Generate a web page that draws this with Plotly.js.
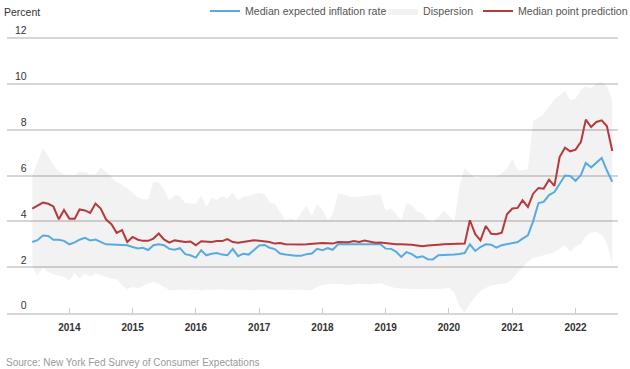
<!DOCTYPE html>
<html>
<head>
<meta charset="utf-8">
<script src="https://cdn.plot.ly/plotly-3.0.1.min.js"></script>
<style>
html,body{margin:0;padding:0;background:#fff;}
#chart{width:630px;height:369px;}
</style>
</head>
<body>
<div id="chart"></div>
<script>
// Monthly observations, June 2013 through August 2022
const startYear = 2013, startMonth = 6, monthCount = 111;

const medianExpected = [
3.10,3.18,3.38,3.36,3.20,3.20,3.15,3.00,3.08,3.20,3.28,3.17,3.21,3.10,3.00,2.99,2.99,2.99,2.96,2.88,
2.82,2.85,2.75,2.96,3.00,2.96,2.80,2.76,2.83,2.57,2.52,2.42,2.74,2.52,2.59,2.62,2.55,2.52,2.80,2.48,
2.59,2.55,2.75,2.95,2.97,2.85,2.79,2.60,2.55,2.52,2.50,2.50,2.57,2.60,2.80,2.74,2.83,2.76,3.00,3.00,
3.00,3.01,3.00,3.02,3.00,3.00,3.00,2.81,2.80,2.68,2.45,2.66,2.57,2.42,2.48,2.35,2.34,2.52,2.52,2.54,
2.55,2.58,2.62,3.00,2.71,2.88,3.00,2.98,2.85,2.96,3.00,3.05,3.10,3.25,3.39,4.00,4.80,4.85,5.15,5.28,
5.65,6.00,5.98,5.77,6.03,6.55,6.36,6.56,6.77,6.22,5.73];

const medianPoint = [
4.56,4.70,4.82,4.77,4.65,4.09,4.50,4.12,4.12,4.52,4.48,4.37,4.78,4.56,4.08,3.88,3.50,3.62,3.10,3.32,
3.20,3.15,3.15,3.25,3.47,3.21,3.07,3.17,3.12,3.10,3.12,2.96,3.13,3.12,3.10,3.14,3.14,3.23,3.10,3.07,
3.10,3.14,3.18,3.15,3.14,3.10,3.03,3.06,3.00,2.99,2.97,2.99,3.00,3.03,3.06,3.06,3.05,3.03,3.10,3.10,
3.09,3.14,3.10,3.16,3.10,3.07,3.08,3.05,3.03,3.00,3.00,3.00,2.98,2.95,2.91,2.95,2.98,2.98,3.00,3.00,
3.00,3.00,3.03,4.05,3.44,3.17,3.80,3.46,3.44,3.51,4.31,4.56,4.59,4.92,4.63,5.21,5.46,5.43,5.82,5.55,
6.81,7.22,7.06,7.13,7.47,8.44,8.12,8.34,8.41,8.15,7.07];

const dispersionUpper = [
6.00,6.60,7.20,6.85,6.45,6.20,6.05,6.06,6.00,6.18,6.15,6.06,6.06,6.37,6.16,5.94,5.72,5.60,5.45,5.25,
5.05,4.97,4.97,5.72,5.72,5.40,4.90,5.17,5.10,4.80,4.77,4.77,5.14,4.63,5.03,4.92,5.10,5.00,5.26,4.92,
5.10,5.10,5.20,5.25,5.20,4.85,4.77,4.41,4.05,4.15,4.05,4.38,4.70,4.24,4.77,4.50,4.05,4.30,5.21,5.20,
5.10,5.05,5.07,5.10,5.12,5.15,5.20,4.48,4.56,4.30,4.05,4.80,4.70,4.45,4.34,4.05,3.97,4.20,4.48,4.26,
4.00,5.50,6.35,6.10,5.90,5.95,5.95,5.95,5.95,6.10,6.30,6.74,6.23,6.23,6.30,8.40,8.52,8.70,9.00,9.35,
9.50,9.70,9.30,9.36,9.75,9.90,9.80,10.02,10.09,9.90,9.29];

const dispersionLower = [
2.05,1.64,1.97,1.79,1.68,1.64,1.57,1.42,1.72,1.52,1.73,1.58,1.72,1.64,1.57,1.50,1.48,1.20,1.04,1.14,
1.08,1.17,1.30,1.35,1.27,1.14,1.00,0.99,1.02,1.00,1.03,1.00,0.98,1.02,1.00,1.04,1.01,1.00,1.03,1.00,
1.02,1.00,0.99,1.02,1.03,1.00,1.02,1.00,0.99,1.01,1.00,1.02,0.98,1.00,1.14,1.22,1.26,1.28,1.28,1.26,
1.22,1.24,1.28,1.25,1.24,1.28,1.30,1.24,1.15,1.08,1.07,1.06,1.05,1.04,1.05,1.05,1.04,1.05,1.06,1.10,
0.90,0.30,0.02,0.40,0.70,0.95,1.10,1.20,1.25,1.28,1.31,1.50,1.75,2.00,2.25,2.40,2.45,2.52,2.58,2.65,
2.80,2.95,2.66,2.90,3.00,3.35,3.52,3.54,3.40,3.05,2.10];

const yTickValues = [0, 2, 4, 6, 8, 10, 12];
const yTickLabels = ['\u20070', '\u20072', '\u20074', '\u20076', '\u20078', '10', '12'];
const xTickValues = ['2014-01-01','2015-01-01','2016-01-01','2017-01-01','2018-01-01','2019-01-01','2020-01-01','2021-01-01','2022-01-01'];
const xTickLabels = ['2014','2015','2016','2017','2018','2019','2020','2021','2022'];

// month dates (categories on the time axis)
const months = [];
for (let i = 0; i < monthCount; i++) {
  const y = startYear + Math.floor((startMonth - 1 + i) / 12);
  const m = ((startMonth - 1 + i) % 12) + 1;
  months.push(y + '-' + String(m).padStart(2, '0') + '-01');
}

const FONT = 'Liberation Sans, Arial, Helvetica, sans-serif';

const bandX = months.concat(months.slice().reverse());
const bandY = dispersionUpper.concat(dispersionLower.slice().reverse());

const traces = [
  {
    type: 'scatter', mode: 'lines', name: 'Dispersion',
    x: bandX, y: bandY, fill: 'toself', fillcolor: 'rgba(0,0,0,0.05)',
    line: {width: 0, color: 'rgba(0,0,0,0)'}, hoverinfo: 'skip',
    legendrank: 2, legendwidth: 50
  },
  {
    type: 'scatter', mode: 'lines', name: 'Median expected inflation rate',
    x: months, y: medianExpected,
    line: {color: '#58abe0', width: 2},
    legendrank: 1, legendwidth: 133
  },
  {
    type: 'scatter', mode: 'lines', name: 'Median point prediction',
    x: months, y: medianPoint,
    line: {color: '#b5393d', width: 2},
    legendrank: 3
  }
];

const layout = {
  width: 630, height: 369,
  margin: {l: 7, r: 12, t: 37, b: 56, pad: 0},
  paper_bgcolor: '#ffffff', plot_bgcolor: '#ffffff',
  font: {family: FONT, size: 10.5, color: '#333'},
  title: {
    text: 'Percent', x: 4/630, xanchor: 'left', xref: 'container',
    y: 1 - 12/369, yanchor: 'middle', yref: 'container',
    font: {family: FONT, size: 10.5, color: '#333'}
  },
  showlegend: true,
  legend: {
    orientation: 'h', xref: 'container', x: 205/630, xanchor: 'left',
    yref: 'container', y: 1 - 11/369, yanchor: 'middle',
    font: {family: FONT, size: 10.6, color: '#555'},
    bgcolor: 'rgba(0,0,0,0)', itemwidth: 30, traceorder: 'normal'
  },
  xaxis: {
    type: 'date', range: ['2013-01-06', '2022-09-03'],
    tickmode: 'array', tickvals: xTickValues, ticktext: xTickLabels,
    ticks: 'inside', ticklen: 5, tickcolor: '#cccccc', tickwidth: 1,
    showline: true, linecolor: '#d6d6d6', linewidth: 2,
    showgrid: false, zeroline: false,
    tickfont: {family: FONT, size: 10, color: '#333', weight: 'bold'},
    ticklabelstandoff: 4, fixedrange: true
  },
  yaxis: {
    range: [0, 12.05], tickmode: 'array', tickvals: yTickValues, ticktext: yTickLabels,
    ticklabelposition: 'inside top', ticklabelstandoff: 5, ticklabeloverflow: 'allow',
    ticks: '', showgrid: true, gridcolor: '#d6d6d6', gridwidth: 2, griddash: 'solid',
    zeroline: false, showline: false,
    tickfont: {family: FONT, size: 10.5, color: '#333'}, fixedrange: true
  },
  annotations: [{
    text: 'Source: New York Fed Survey of Consumer Expectations',
    xref: 'paper', yref: 'paper', x: -3/611, xanchor: 'left',
    y: -(362 - 313)/276, yanchor: 'middle', showarrow: false,
    font: {family: FONT, size: 10, color: '#999'}
  }]
};

Plotly.newPlot('chart', traces, layout, {staticPlot: true, displayModeBar: false});
</script>
</body>
</html>
